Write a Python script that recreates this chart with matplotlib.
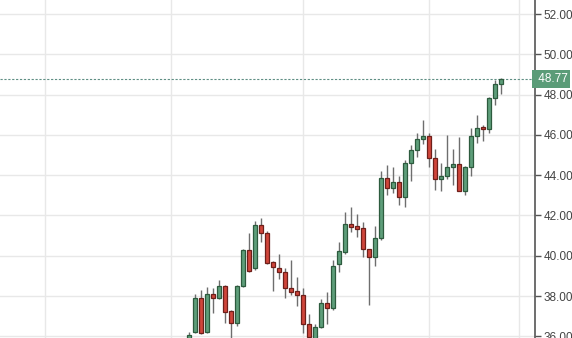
import matplotlib
matplotlib.use("Agg")
import matplotlib.pyplot as plt
import matplotlib.transforms as mtransforms

# === Datos (velas diarias) ===
opens = [35.80, 36.23, 37.89, 36.23, 38.10, 37.89, 38.50, 37.26, 36.65, 38.52,
         40.29, 39.38, 41.53, 41.12, 39.68, 39.38, 39.18, 38.39, 38.25, 38.05,
         36.62, 35.75, 36.45, 37.64, 37.39, 39.58, 40.20, 41.58, 41.48, 41.36,
         40.32, 39.96, 40.87, 43.85, 43.35, 43.65, 42.90, 44.59, 45.25, 45.80,
         45.96, 44.84, 43.80, 43.97, 44.42, 44.54, 43.22, 44.42, 45.95, 46.36,
         46.30, 47.82, 48.53]
highs = [36.22, 38.09, 38.30, 38.47, 38.39, 38.80, 38.55, 37.30, 38.55, 40.35,
         41.12, 41.74, 41.86, 41.25, 39.72, 40.09, 39.40, 39.79, 38.96, 38.39,
         37.11, 36.62, 37.86, 38.22, 39.79, 40.70, 42.19, 42.40, 42.07, 41.69,
         40.35, 41.48, 44.22, 44.51, 44.42, 43.96, 44.75, 45.50, 46.08, 46.74,
         46.10, 45.29, 44.59, 45.99, 45.29, 45.88, 44.45, 46.33, 46.99, 46.49,
         47.90, 48.72, 48.84]
lows = [35.60, 36.15, 36.10, 36.15, 37.18, 37.85, 36.65, 35.90, 36.50, 38.45,
        39.21, 39.30, 40.70, 39.60, 38.27, 38.83, 37.89, 38.05, 37.52, 36.15,
        35.70, 35.60, 36.40, 36.62, 37.30, 39.21, 40.09, 41.20, 40.92, 39.96,
        37.56, 39.49, 40.80, 43.02, 43.10, 42.52, 42.44, 43.73, 44.92, 45.55,
        44.42, 43.27, 43.22, 43.80, 43.51, 43.20, 43.00, 43.96, 45.58, 45.70,
        46.08, 47.48, 48.01]
closes = [36.07, 37.89, 36.18, 38.09, 37.89, 38.50, 37.23, 36.65, 38.52, 40.29,
          39.26, 41.53, 41.12, 39.66, 39.46, 39.18, 38.39, 38.22, 38.05, 36.62,
          35.95, 36.45, 37.64, 37.39, 39.49, 40.24, 41.58, 41.45, 41.35, 40.32,
          39.96, 40.87, 43.85, 43.35, 43.65, 42.90, 44.59, 45.25, 45.80, 45.96,
          44.84, 43.80, 43.97, 44.42, 44.54, 43.22, 44.42, 45.95, 46.36, 46.30,
          47.85, 48.53, 48.77]

precio_actual = 48.77
y_ticks = [36, 38, 40, 42, 44, 46, 48, 50, 52]
x_grid = [-24, -3, 19, 40, 55]   # cambios de mes

# === Colores ===
VERDE = "#5e9e7a"
VERDE_BORDE = "#2d5b3e"
ROJO = "#d0453b"
ROJO_BORDE = "#6e1f1a"
MECHA = "#6e6e6e"

fig = plt.figure(figsize=(5.72, 3.38), dpi=100)
ax = fig.add_axes([0, 0, 535 / 572, 1])

for x in x_grid:
    ax.axvline(x, color="#e8e8e8", lw=1, zorder=0)
for y in y_ticks:
    ax.axhline(y, color="#e8e8e8", lw=1, zorder=0)

idx = list(range(len(opens)))
ax.vlines(idx, lows, highs, color=MECHA, lw=1, zorder=2)

for i in idx:
    o, c = opens[i], closes[i]
    sube = c >= o
    base = min(o, c)
    alto = max(abs(c - o), 0.08)
    ax.bar(i, alto, bottom=base, width=0.72,
           color=VERDE if sube else ROJO,
           edgecolor=VERDE_BORDE if sube else ROJO_BORDE,
           linewidth=0.9, zorder=3)

# línea del precio actual
ax.axhline(precio_actual, color="#5f8f84", lw=0.8, ls=(0, (2, 1.5)), zorder=1)

ax.set_xlim(-31.5, 57.67)
ax.set_ylim(35.92, 52.695)

ax.yaxis.tick_right()
ax.set_yticks(y_ticks)
ax.set_yticklabels([f"{v:.2f}" for v in y_ticks])
ax.tick_params(axis="y", direction="out", length=4, width=1, color="#555555",
               labelcolor="#444444", labelsize=8.5, pad=2)
ax.set_xticks([])
for lado in ["top", "left", "bottom"]:
    ax.spines[lado].set_visible(False)
ax.spines["right"].set_color("#555555")
ax.spines["right"].set_linewidth(1.2)

trans = mtransforms.blended_transform_factory(ax.transAxes, ax.transData)
ax.text(1.0, precio_actual, f" {precio_actual:.2f}", transform=trans,
        ha="left", va="center", color="white", fontsize=8.5, clip_on=False,
        bbox=dict(boxstyle="square,pad=0.22", fc="#5b9c78", ec="none"))

for t in ax.get_yticklabels() + ax.texts:
    t.set_fontfamily(["Liberation Sans", "DejaVu Sans"])

fig.savefig("out.png", dpi=100)
